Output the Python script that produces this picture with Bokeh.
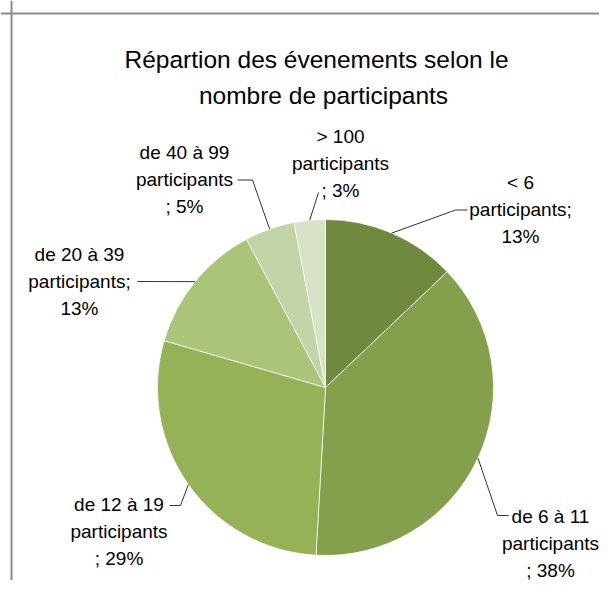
import math
from bokeh.plotting import figure
from bokeh.models import Range1d, Span
from bokeh.core.properties import value
from bokeh.embed import file_html
from bokeh.resources import INLINE

# ---------------- data ----------------
categories = ["< 6", "de 6 à 11", "de 12 à 19", "de 20 à 39", "de 40 à 99", "> 100"]
shares = [12.9, 38.0, 28.6, 12.7, 4.8, 3.0]          # % of events
colors = ["#71893F", "#84A04C", "#95B257", "#ABC47A", "#C3D4A6", "#D8E2C7"]
title_lines = ["Répartion des évenements selon le", "nombre de participants"]
unit_word = "participants"
semicolon_on_line2 = [True, False, False, True, False, False]

# ---------------- layout (px, measured from the top-left corner of the chart) ----------------
W, H = 599, 580
REF_H = 596
CX, CY, R = 325, 387, 168
FONT = "Liberation Sans, Arial, sans-serif"
LINE_H = 27
# label centre x, first baseline, elbow point (or None), end point
label_layout = [
    (520, 182, (455, 209.5), (467, 209.5)),
    (550, 516, (497, 515), (508, 515)),
    (118.5, 504, (180, 505), (169, 505)),
    (79, 254, None, (137, 281)),
    (184, 152, (252, 179.5), (237, 179.5)),
    (340, 136, None, (318, 192)),
]

def Y(sy):
    return REF_H - sy

p = figure(width=W, height=H, output_backend="svg", toolbar_location=None,
           x_range=Range1d(0, W),
           y_range=Range1d(REF_H - H, REF_H),
           min_border=0)
p.axis.visible = False
p.grid.visible = False
p.outline_line_color = None
p.background_fill_color = "white"
p.border_fill_color = "white"

# chart border (top and left visible)
p.add_layout(Span(location=Y(13), dimension="width", line_color="#8C8C8C", line_width=2))
p.add_layout(Span(location=11, dimension="height", line_color="#8C8C8C", line_width=2))

# pie wedges
total = sum(shares)
starts, ends, mids = [], [], []
cum = 0.0
for s in shares:
    a0 = math.pi / 2 - 2 * math.pi * cum / total
    cum += s
    a1 = math.pi / 2 - 2 * math.pi * cum / total
    starts.append(a0)
    ends.append(a1)
    mids.append((a0 + a1) / 2)

p.wedge(x=[CX] * len(shares), y=[Y(CY)] * len(shares), radius=R,
        start_angle=starts, end_angle=ends, direction="clock",
        fill_color=colors, line_color="white", line_width=1, line_alpha=0.7)

# leader lines
xs, ys = [], []
for m, (lx, lb, elbow, end) in zip(mids, label_layout):
    ex = CX + R * math.cos(m)
    ey = Y(CY) + R * math.sin(m)
    px = [ex]
    py = [ey]
    if elbow is not None:
        px.append(elbow[0]); py.append(Y(elbow[1]))
    px.append(end[0]); py.append(Y(end[1]))
    xs.append(px); ys.append(py)
p.multi_line(xs=xs, ys=ys, line_color="#333333", line_width=1)

# labels
tx, ty, tt = [], [], []
for cat, s, semi, (lx, lb, elbow, end) in zip(categories, shares, semicolon_on_line2, label_layout):
    pct = f"{round(s)}%"
    if semi:
        lines = [cat, unit_word + ";", pct]
    else:
        lines = [cat, unit_word, "; " + pct]
    for i, ln in enumerate(lines):
        tx.append(lx); ty.append(Y(lb + i * LINE_H)); tt.append(ln)
p.text(x=tx, y=ty, text=tt, text_align="center", text_baseline="alphabetic",
       text_font=value(FONT), text_font_size="19px", text_color="#000000")

# title
p.text(x=[316, 323], y=[Y(58.5), Y(95)], text=title_lines,
       text_align="center", text_baseline="alphabetic",
       text_font=value(FONT), text_font_size="24.5px", text_color="#000000")

open("out.html", "w").write(file_html(p, INLINE))
